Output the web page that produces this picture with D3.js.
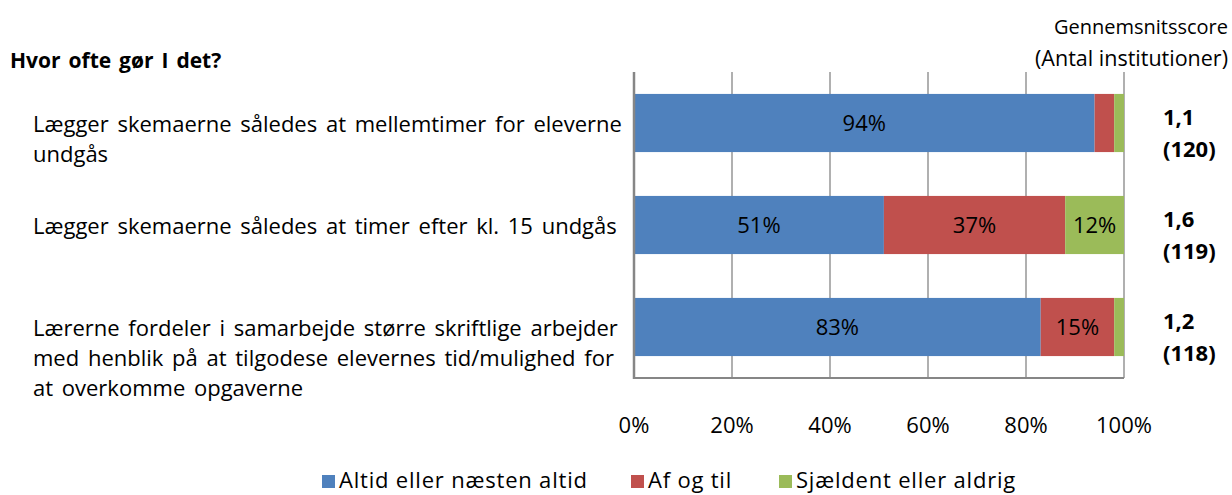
<!DOCTYPE html>
<html>
<head>
<meta charset="utf-8">
<script src="https://cdn.jsdelivr.net/npm/d3@7"></script>
<style>
  body { margin: 0; background: #fff; }
  text { font-family: 'Open Sans', sans-serif; fill: #000; }
</style>
</head>
<body>
<svg id="chart" width="1232" height="495"></svg>
<script>
const categories = [
    ['Lægger skemaerne således at mellemtimer for eleverne', 'undgås'],
    ['Lægger skemaerne således at timer efter kl. 15  undgås'],
    ['Lærerne fordeler i samarbejde større skriftlige arbejder', 'med henblik på at tilgodese elevernes tid/mulighed for', 'at overkomme opgaverne']
];
const seriesNames = ['Altid eller næsten altid', 'Af og til', 'Sjældent eller aldrig'];
const altid = [94, 51, 83];
const afOgTil = [4, 37, 15];
const sjaeldent = [2, 12, 2];
const scores = ['1,1', '1,6', '1,2'];
const counts = ['(120)', '(119)', '(118)'];
const ticks = [0, 20, 40, 60, 80, 100];
const colors = ['#4F81BD', '#C0504D', '#9BBB59'];

const svg = d3.select('#chart');
const plot = { left: 634, right: 1124, top: 72, bottom: 378 };

const xScale = d3.scaleLinear().domain([0, 100]).range([plot.left, plot.right]);
const yScale = d3.scaleBand().domain(d3.range(categories.length))
    .range([plot.top, plot.bottom]).paddingInner(0.43).paddingOuter(0.215);
const color = d3.scaleOrdinal().domain(seriesNames).range(colors);

// grid
svg.append('g').selectAll('line').data(ticks.slice(1)).join('line')
    .attr('x1', d => xScale(d)).attr('x2', d => xScale(d))
    .attr('y1', plot.top).attr('y2', plot.bottom)
    .attr('stroke', '#868686').attr('stroke-width', 1.3);

// stacked bars
const rows = categories.map((c, i) => ({ i, Altid: altid[i], Af: afOgTil[i], Sj: sjaeldent[i] }));
const stack = d3.stack().keys(['Altid', 'Af', 'Sj'])(rows);
const layers = svg.append('g').selectAll('g').data(stack).join('g')
    .attr('fill', (d, k) => colors[k]);
layers.selectAll('rect').data(d => d).join('rect')
    .attr('x', d => xScale(d[0]))
    .attr('width', d => xScale(d[1]) - xScale(d[0]))
    .attr('y', d => yScale(d.data.i))
    .attr('height', yScale.bandwidth());
layers.selectAll('text').data(d => d.filter(v => v[1] - v[0] >= 10)).join('text')
    .attr('x', d => (xScale(d[0]) + xScale(d[1])) / 2)
    .attr('y', d => yScale(d.data.i) + yScale.bandwidth() / 2)
    .attr('dy', '0.35em')
    .attr('text-anchor', 'middle')
    .attr('font-size', 22)
    .text(d => (d[1] - d[0]) + '%');

// axes lines
svg.append('line').attr('x1', plot.left).attr('x2', plot.left)
    .attr('y1', plot.top).attr('y2', plot.bottom + 1)
    .attr('stroke', '#868686').attr('stroke-width', 2.5);
svg.append('line').attr('x1', plot.left).attr('x2', plot.right)
    .attr('y1', plot.bottom).attr('y2', plot.bottom)
    .attr('stroke', '#868686').attr('stroke-width', 2);

// x tick labels
svg.append('g').selectAll('text').data(ticks).join('text')
    .attr('x', d => xScale(d)).attr('y', 425).attr('dy', '0.35em')
    .attr('text-anchor', 'middle').attr('font-size', 22)
    .text(d => d + '%');

// category labels
const catG = svg.append('g').selectAll('text').data(categories).join('text')
    .attr('x', 33)
    .attr('y', (d, i) => yScale(i) + yScale.bandwidth() / 2 + 1)
    .attr('font-size', 22).attr('word-spacing', 3);
catG.selectAll('tspan').data(d => d).join('tspan')
    .attr('x', 33)
    .attr('dy', (d, j) => j === 0 ? '0.35em' : 30)
    .text(d => d);

// score labels
const scoreG = svg.append('g').selectAll('text').data(categories).join('text')
    .attr('x', 1163)
    .attr('y', (d, i) => yScale(i) + yScale.bandwidth() / 2 - 6)
    .attr('font-size', 22).attr('font-weight', 'bold');
scoreG.append('tspan').attr('x', 1163).attr('dy', '0.35em').text((d, i) => scores[i]);
scoreG.append('tspan').attr('x', 1163).attr('dy', 32).text((d, i) => counts[i]);

// titles
svg.append('text').attr('x', 10).attr('y', 61).attr('dy', '0.35em')
    .attr('font-size', 21).attr('font-weight', 'bold').attr('word-spacing', 2.5)
    .text('Hvor ofte gør I det?');
svg.append('text').attr('x', 1228).attr('y', 27).attr('dy', '0.35em')
    .attr('text-anchor', 'end').attr('font-size', 20).text('Gennemsnitsscore');
svg.append('text').attr('x', 1228).attr('y', 58).attr('dy', '0.35em')
    .attr('text-anchor', 'end').attr('font-size', 21.5).text('(Antal institutioner)');

// legend
const legendX = [322, 631, 779];
const legend = svg.append('g').selectAll('g').data(seriesNames).join('g')
    .attr('transform', (d, i) => `translate(${legendX[i]}, 480)`);
legend.append('rect').attr('x', 0).attr('y', -5).attr('width', 13).attr('height', 13)
    .attr('fill', d => color(d));
legend.append('text').attr('x', 17).attr('dy', '0.35em').attr('font-size', 22)
    .attr('letter-spacing', 0.8)
    .text(d => d);
</script>
</body>
</html>
